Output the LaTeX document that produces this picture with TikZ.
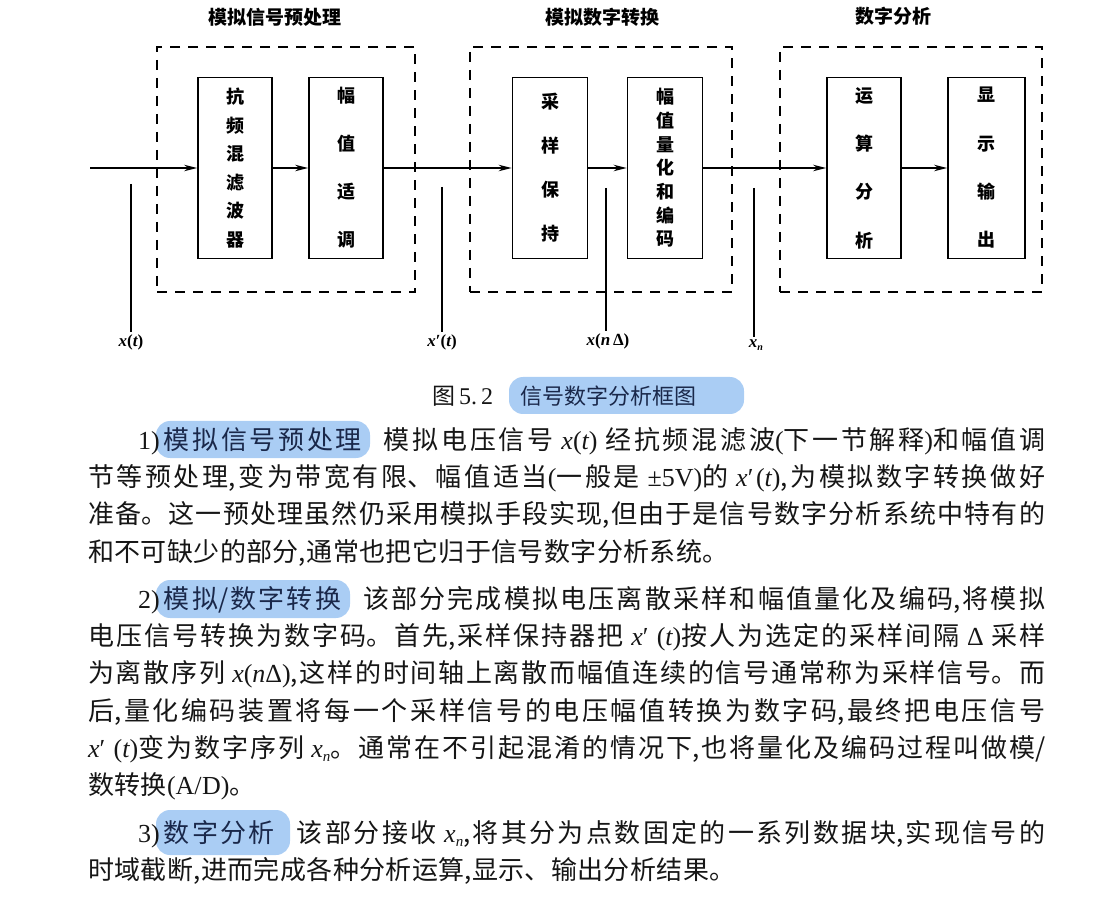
\documentclass[tikz,border=0pt]{standalone}
\usepackage{fontspec}
\setmainfont{Noto Sans CJK SC}
\newfontfamily\tms{Liberation Serif}
\usetikzlibrary{arrows.meta}

\definecolor{hlblue}{RGB}{170,205,244}
\definecolor{hltext}{RGB}{26,40,74}
\definecolor{ink}{RGB}{22,22,22}

% interchar glue so justified Chinese lines can stretch
\XeTeXlinebreaklocale "zh"
\XeTeXlinebreakskip=0.4pt plus 3pt
\tolerance=9999
\hbadness=10000

\newcommand\hlt[1]{\textcolor{hltext}{#1}}
% italic Latin symbols inside the Chinese text
\newcommand\sym[1]{{\tms\itshape #1}}
\newcommand\bsym[1]{{\tms\bfseries\itshape #1}}
\newlength\firstindent
\setlength\firstindent{50pt}

\begin{document}
\begin{tikzpicture}[x=1pt,y=-1pt,
  grp/.style={draw,line width=1.8pt,dash pattern=on 10pt off 8pt,inner sep=0pt},
  blk/.style={draw,line width=1.8pt,inner sep=0pt,align=center,minimum width=75,minimum height=181,
              font=\bfseries\fontsize{18}{#1}\selectfont},
  ttl/.style={font=\bfseries\fontsize{19}{22}\selectfont},
  sig/.style={line width=1.8pt,-{Stealth[length=13pt,width=6.5pt]}},
  ptr/.style={line width=1.6pt},
  lbl/.style={inner sep=2pt,font=\fontsize{17}{18}\selectfont},
  para/.style={text width=957pt,align=justify,inner sep=0pt,text=ink,
               font=\fontsize{26}{37.3}\selectfont},
  hl/.style={fill=hlblue,rounded corners=14pt}
]
\useasboundingbox (0,0) rectangle (1120,901);

% ---- dashed stage frames and their titles
\node[grp,minimum width=258,minimum height=245] (g1) at (286,169.5) {};
\node[grp,minimum width=262,minimum height=245] (g2) at (601,169.5) {};
\node[grp,minimum width=262,minimum height=245] (g3) at (911,169.5) {};
\node[ttl] (t1) at (275,17) {模拟信号预处理};
\node[ttl] (t2) at (602,17) {模拟数字转换};
\node[ttl] (t3) at (893,16) {数字分析};

% ---- processing blocks
\node[blk=28.6,minimum width=74] (A) at (235,168) {抗\\频\\混\\滤\\波\\器};
\node[blk=48,minimum width=74]   (B) at (346,168) {幅\\值\\适\\调};
\node[blk=44]                    (C) at (550,168) {采\\样\\保\\持};
\node[blk=23.7]                  (D) at (665,168) {幅\\值\\量\\化\\和\\编\\码};
\node[blk=48.3,minimum width=74] (E) at (864,168) {运\\算\\分\\析};
\node[blk=48.3,minimum width=77] (F) at (986.5,168) {显\\示\\输\\出};

% ---- signal path
\coordinate (in) at (90,168);
\draw[sig] (in) -- (A.west);
\draw[sig] (A.east) -- (B.west);
\draw[sig] (B.east) -- (C.west);
\draw[sig] (C.east) -- (D.west);
\draw[sig] (D.east) -- (E.west);
\draw[sig] (E.east) -- (F.west);

% ---- signal name pointers
\coordinate (p1) at (131,184);
\coordinate (p2) at (442,187);
\coordinate (p3) at (606,188);
\coordinate (p4) at (754,188);
\node[lbl] (l1) at (131,342) {\bsym{x}{\tms\bfseries(}\bsym{t}{\tms\bfseries)}};
\node[lbl] (l2) at (442,342) {\bsym{x}{\tms\bfseries\char"2032(}\bsym{t}{\tms\bfseries)}};
\node[lbl] (l3) at (608,341) {\bsym{x}{\tms\bfseries(}\bsym{n}\,{\tms\bfseries Δ)}};
\node[lbl] (l4) at (756,345) {\bsym{x}\raisebox{-3pt}{\fontsize{10}{12}\selectfont\bsym{n}}};
\draw[ptr] (p1) -- (l1.north -| p1);
\draw[ptr] (p2) -- (l2.north -| p2);
\draw[ptr] (p3) -- (l3.north -| p3);
\draw[ptr] (p4) -- (l4.north -| p4);

% ---- highlight marks behind the caption and headings
\fill[hl] (509,377) rectangle (744,414);
\fill[hl] (156,421) rectangle (370,458);
\fill[hl] (156,580) rectangle (350,618);
\fill[hl] (156,810) rectangle (290,855);

% ---- caption
\node[anchor=base west,inner sep=0pt,font=\fontsize{23}{26}\selectfont,text=ink] (cap) at (432,405) {图\,{\tms\fontsize{24}{26}\selectfont 5.\,2}};
\node[anchor=base west,inner sep=0pt,font=\fontsize{22}{26}\selectfont,text=hltext] (capt) at (520,405) {信号数字分析框图};

% ---- explanatory paragraphs
\node[para,anchor=north west] (P1) at (88,427) {\hspace*{\firstindent}{\tms 1)}\hspace{4pt}\hlt{模拟信号预处理}\hspace{22pt}模拟电压信号 \sym{x}{\tms(}\sym{t}{\tms)} 经抗频混滤波{\tms(}下一节解释{\tms)}和幅值调\linebreak
节等预处理,变为带宽有限、幅值适当{\tms(}一般是 {\tms ±5V}{\tms)}的 \sym{x}{\tms\char"2032(}\sym{t}{\tms)},为模拟数字转换做好\linebreak
准备。这一预处理虽然仍采用模拟手段实现,但由于是信号数字分析系统中特有的\linebreak
和不可缺少的部分,通常也把它归于信号数字分析系统。};

\node[para,anchor=north west] (P2) at (88,586) {\hspace*{\firstindent}{\tms 2)}\hspace{4pt}\hlt{模拟/数字转换}\hspace{22pt}该部分完成模拟电压离散采样和幅值量化及编码,将模拟\linebreak
电压信号转换为数字码。首先,采样保持器把 \sym{x}{\tms\char"2032\ (}\sym{t}{\tms)}按人为选定的采样间隔 {\tms Δ} 采样\linebreak
为离散序列 \sym{x}{\tms(}\sym{n}{\tms Δ)},这样的时间轴上离散而幅值连续的信号通常称为采样信号。而\linebreak
后,量化编码装置将每一个采样信号的电压幅值转换为数字码,最终把电压信号\linebreak
\sym{x}{\tms\char"2032\ (}\sym{t}{\tms)}变为数字序列 \sym{x}\raisebox{-4pt}{\fontsize{15}{16}\selectfont\sym{n}}。通常在不引起混淆的情况下,也将量化及编码过程叫做模/\linebreak
数转换{\tms(A/D)}。};

\node[para,anchor=north west] (P3) at (88,820) {\hspace*{\firstindent}{\tms 3)}\hspace{4pt}\hlt{数字分析}\hspace{22pt}该部分接收 \sym{x}\raisebox{-4pt}{\fontsize{15}{16}\selectfont\sym{n}},将其分为点数固定的一系列数据块,实现信号的\linebreak
时域截断,进而完成各种分析运算,显示、输出分析结果。};
\end{tikzpicture}
\end{document}
